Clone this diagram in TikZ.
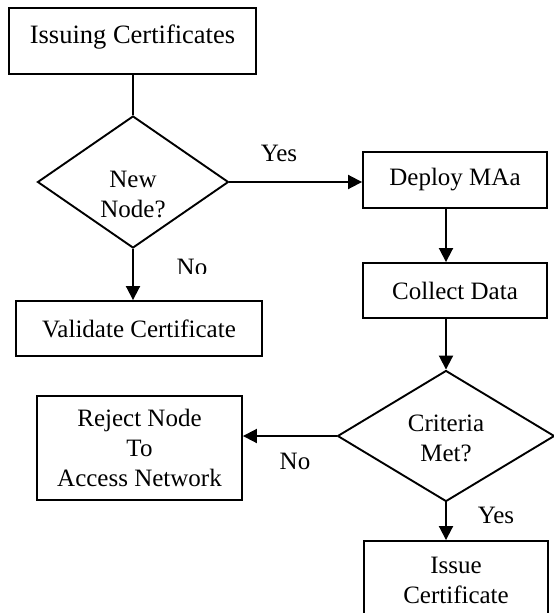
\documentclass[tikz,border=0pt]{standalone}
\usepackage{fontspec}
\setmainfont{Liberation Serif}
\usetikzlibrary{shapes.geometric,arrows.meta}

\tikzset{
  base/.style={font=\fontsize{25}{30}\selectfont, align=center},
  box/.style={base, draw, line width=1.9pt, inner sep=0pt, fill=white},
  decision/.style={base, draw, shape=diamond, line width=1.9pt, inner sep=0pt, fill=white},
  txt/.style={base, inner sep=0pt},
  lbl/.style={font=\fontsize{25}{30}\selectfont, inner sep=0pt, anchor=base},
  link/.style={line width=1.9pt},
  arrow/.style={link, -{Triangle[length=14pt,width=14pt]}},
}

\begin{document}
\begin{tikzpicture}[x=1pt,y=-1pt]
  \useasboundingbox (0,0) rectangle (554,613);

  % boxes
  \node[box, minimum width=247pt, minimum height=66pt, font=\fontsize{26.5}{30}\selectfont,
        text height=13pt, text depth=9pt] (issuing) at (132.5,41) {Issuing Certificates};
  \node[decision, minimum width=191pt, minimum height=132pt] (newq) at (133,182) {};
  \node[txt] (newqtext) at (133,194) {New\\Node?};
  \node[box, minimum width=246pt, minimum height=55pt] (validate) at (139,328.5) {Validate Certificate};
  \node[box, minimum width=184pt, minimum height=56pt] (deploy) at (455,180) {Deploy MAa};
  \node[box, minimum width=184pt, minimum height=55pt] (collect) at (455,290.5) {Collect Data};
  \node[decision, minimum width=217pt, minimum height=131pt] (critq) at (446,436) {};
  \node[txt] (critqtext) at (446,438) {Criteria\\Met?};
  \node[box, minimum width=205pt, minimum height=104pt] (reject) at (139.5,448) {Reject Node\\To\\Access Network};
  \node[box, minimum width=184pt, minimum height=78pt] (issue) at (456,580) {Issue\\Certificate};

  % connectors
  \draw[link] (issuing.south -| newq.north) -- (newq.north);
  \draw[arrow] (newq.south) -- (newq.south |- validate.north);
  \draw[arrow] (newq.east) -- (newq.east -| deploy.west);
  \coordinate (dropx) at ([xshift=-9pt]deploy.south);
  \draw[arrow] (dropx) -- (dropx |- collect.north);
  \draw[arrow] (critq.north |- collect.south) -- (critq.north);
  \draw[arrow] (critq.west) -- (critq.west -| reject.east);
  \draw[arrow] (critq.south) -- (critq.south |- issue.north);

  % branch labels
  \node[lbl] (yes1) at (279,161) {Yes};
  \begin{scope}
    \clip (150,240) rectangle (230,273);
    \node[lbl] (no1) at (192,275) {No};
  \end{scope}
  \node[lbl] (no2) at (295,469) {No};
  \node[lbl] (yes2) at (496,523) {Yes};
\end{tikzpicture}
\end{document}
